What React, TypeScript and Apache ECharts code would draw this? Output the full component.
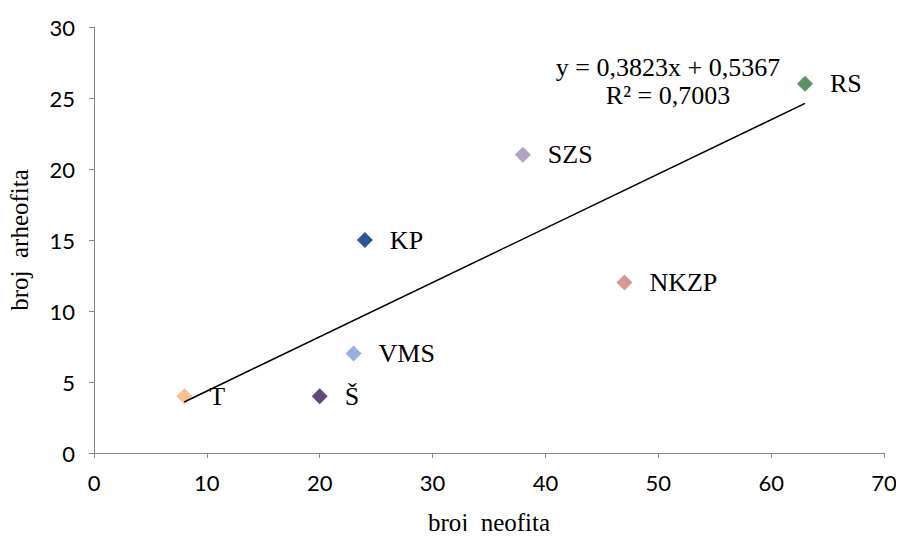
import React, { useEffect, useRef } from "react";
import * as echarts from "echarts";

const names = ["T", "Š", "VMS", "KP", "SZS", "NKZP", "RS"];
const neofita = [8, 20, 23, 24, 38, 47, 63];
const arheofita = [4, 4, 7, 15, 21, 12, 26];
const colors = ["#FAC090", "#604A7B", "#95B3D7", "#2B5797", "#B3A2C7", "#D99694", "#5B9363"];
const slope = 0.3823;
const intercept = 0.5367;
const equationText = "y = 0,3823x + 0,5367";
const r2Text = "R² = 0,7003";

export default function App() {
  const ref = useRef<HTMLDivElement>(null);
  useEffect(() => {
    if (!ref.current) return;
    const chart = echarts.init(ref.current, null, { renderer: "svg" });
    const xMin = Math.min(...neofita);
    const xMax = Math.max(...neofita);
    const tickFont = { fontFamily: "Lato", fontSize: 22, color: "#000" };
    const serif = { fontFamily: "Liberation Serif", fontSize: 26, color: "#000" };
    chart.setOption({
      animation: false,
      backgroundColor: "#fff",
      grid: { left: 94, right: 20, top: 27, bottom: 86, containLabel: false, outerBoundsMode: "none" },
      xAxis: {
        type: "value",
        min: 0,
        max: 70,
        interval: 10,
        name: "broj  neofita",
        nameLocation: "middle",
        nameGap: 57,
        nameTextStyle: { ...serif, fontSize: 25 },
        axisLine: { lineStyle: { color: "#868686", width: 1 } },
        axisTick: { show: true, length: 5, lineStyle: { color: "#868686" } },
        axisLabel: { ...tickFont, margin: 18 },
        splitLine: { show: false },
      },
      yAxis: {
        type: "value",
        min: 0,
        max: 30,
        interval: 5,
        name: "broj  arheofita",
        nameLocation: "middle",
        nameGap: 62,
        nameRotate: 90,
        nameTextStyle: { ...serif, fontSize: 25 },
        axisLine: { show: true, lineStyle: { color: "#868686", width: 1 } },
        axisTick: { show: true, length: 5, lineStyle: { color: "#868686" } },
        axisLabel: { ...tickFont, margin: 19 },
        splitLine: { show: false },
      },
      series: [
        {
          type: "line",
          data: [
            [xMin, slope * xMin + intercept],
            [xMax, slope * xMax + intercept],
          ],
          showSymbol: false,
          symbol: "none",
          lineStyle: { color: "#000", width: 1.5 },
          silent: true,
          z: 3,
        },
        {
          type: "scatter",
          symbol: "diamond",
          symbolSize: 16,
          z: 2,
          itemStyle: { opacity: 1 },
          data: names.map((n, i) => ({
            name: n,
            value: [neofita[i], arheofita[i]],
            itemStyle: { color: colors[i], opacity: 1 },
          })),
          label: {
            show: true,
            position: "right",
            distance: 17,
            formatter: (p: any) => p.name,
            ...serif,
          },
        },
      ],
      graphic: [
        {
          type: "text",
          x: 668,
          y: 67,
          style: {
            text: equationText,
            fontFamily: "Liberation Serif",
            fontSize: 26,
            fill: "#000",
            align: "center",
            verticalAlign: "middle",
          },
        },
        {
          type: "text",
          x: 668,
          y: 95,
          style: {
            text: r2Text,
            fontFamily: "Liberation Serif",
            fontSize: 26,
            fill: "#000",
            align: "center",
            verticalAlign: "middle",
          },
        },
      ],
    });
    return () => chart.dispose();
  }, []);
  return <div ref={ref} style={{ width: 904, height: 539, margin: -8 }} />;
}
